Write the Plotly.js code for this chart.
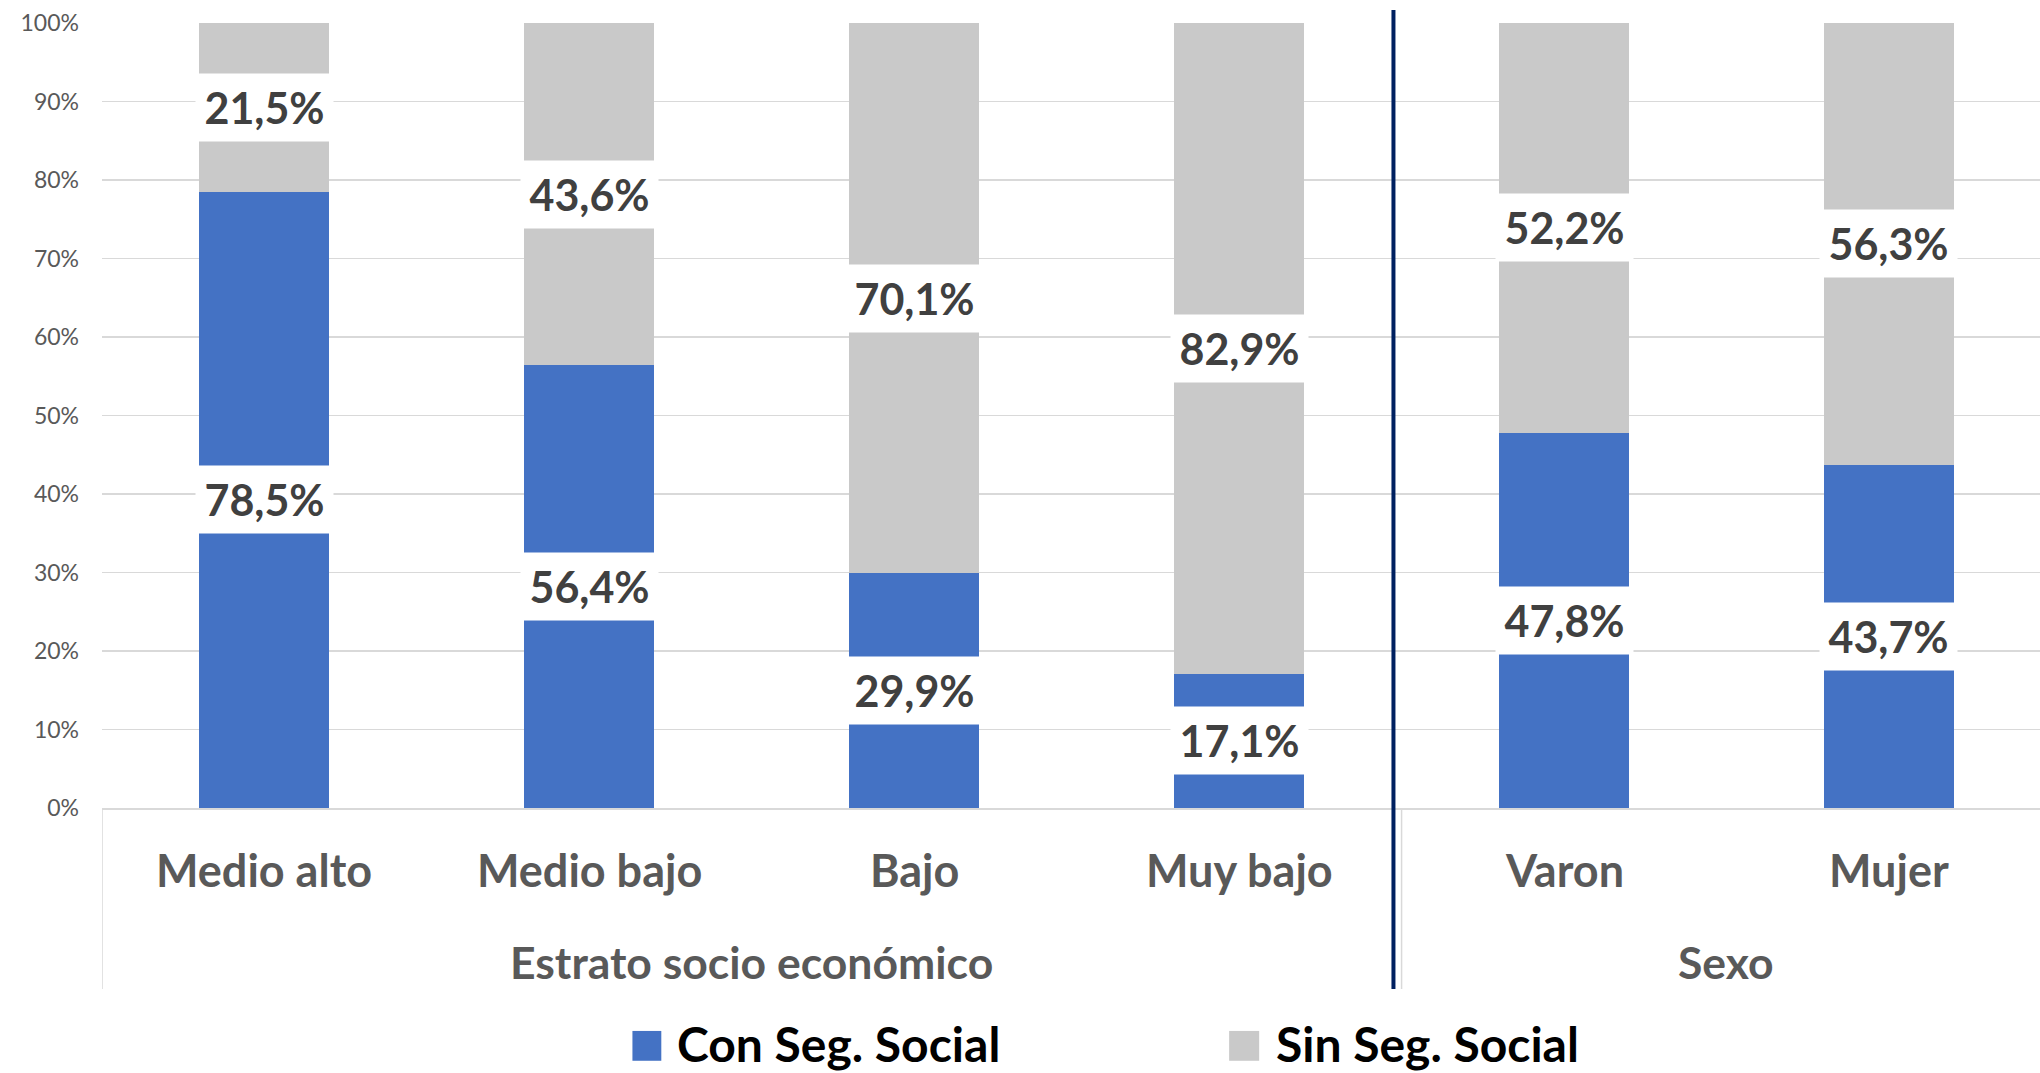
<!DOCTYPE html>
<html>
<head>
<meta charset="utf-8">
<script src="https://cdn.plot.ly/plotly-3.0.1.min.js"></script>
<style>html,body{margin:0;padding:0;background:#fff;}#chart{width:2040px;height:1073px;}</style>
</head>
<body>
<div id="chart"></div>
<script>
const categories = ['Medio alto', 'Medio bajo', 'Bajo', 'Muy bajo', 'Varon', 'Mujer'];
const groups = ['Estrato socio económico', 'Sexo'];
const groupSpans = [[0, 3], [4, 5]];
const conSeg = [78.5, 56.4, 29.9, 17.1, 47.8, 43.7];
const sinSeg = [21.5, 43.6, 70.1, 82.9, 52.2, 56.3];
const seriesNames = ['Con Seg. Social', 'Sin Seg. Social'];
const yTicks = [0, 10, 20, 30, 40, 50, 60, 70, 80, 90, 100];

const BLUE = '#4472C4', GRAY = '#C9C9C9';
const FONT = 'Lato, "Open Sans", sans-serif';
const xs = categories.map((c, i) => i);
const fmt = v => v.toFixed(1).replace('.', ',') + '%';

const traces = [
  {type: 'bar', x: xs, y: conSeg, name: seriesNames[0], marker: {color: BLUE}, width: 0.4, hoverinfo: 'skip', showlegend: false},
  {type: 'bar', x: xs, y: sinSeg, name: seriesNames[1], marker: {color: GRAY}, width: 0.4, hoverinfo: 'skip', showlegend: false}
];

const annotations = [];
xs.forEach(i => {
  [[conSeg[i] / 2, conSeg[i]], [conSeg[i] + sinSeg[i] / 2, sinSeg[i]]].forEach(([yy, v]) => {
    annotations.push({x: i, y: yy, xref: 'x', yref: 'y', text: '<b>' + fmt(v) + '</b>', showarrow: false,
      bgcolor: '#ffffff', borderpad: 7, width: 123, height: 53,
      font: {family: FONT, size: 43, color: '#404040'}});
  });
  annotations.push({x: i, y: -0.079, xref: 'x', yref: 'paper', yanchor: 'middle', text: '<b>' + categories[i] + '</b>', showarrow: false,
    font: {family: FONT, size: 45, color: '#595959'}});
});
groups.forEach((g, k) => {
  const [a, b] = groupSpans[k];
  annotations.push({x: (a + b) / 2, y: -0.195, xref: 'x', yref: 'paper', yanchor: 'middle', text: '<b>' + g + '</b>', showarrow: false,
    font: {family: FONT, size: 44.5, color: '#595959'}});
});
// legend texts
annotations.push({x: 0.2958, y: -0.2994, xref: 'paper', yref: 'paper', xanchor: 'left', yanchor: 'middle', text: '<b>' + seriesNames[0] + '</b>', showarrow: false,
  font: {family: FONT, size: 48, color: '#000000'}});
annotations.push({x: 0.6048, y: -0.2994, xref: 'paper', yref: 'paper', xanchor: 'left', yanchor: 'middle', text: '<b>' + seriesNames[1] + '</b>', showarrow: false,
  font: {family: FONT, size: 48, color: '#000000'}});

const shapes = [
  {type: 'line', xref: 'x', yref: 'paper', x0: 3.475, x1: 3.475, y0: 1.0166, y1: -0.2306, line: {color: '#002060', width: 4}},
  {type: 'line', xref: 'x', yref: 'paper', x0: -0.5, x1: -0.5, y0: 0, y1: -0.2306, line: {color: '#d9d9d9', width: 1.5}},
  {type: 'line', xref: 'x', yref: 'paper', x0: 3.5, x1: 3.5, y0: 0, y1: -0.2306, line: {color: '#d9d9d9', width: 1.5}},
  {type: 'rect', xref: 'paper', yref: 'paper', x0: 0.2737, x1: 0.2886, y0: -0.284, y1: -0.322, fillcolor: BLUE, line: {width: 0}},
  {type: 'rect', xref: 'paper', yref: 'paper', x0: 0.5816, x1: 0.5971, y0: -0.284, y1: -0.322, fillcolor: GRAY, line: {width: 0}}
];

const layout = {
  width: 2040, height: 1073,
  margin: {l: 101.5, r: 0, t: 23, b: 265, pad: 0},
  paper_bgcolor: '#ffffff', plot_bgcolor: '#ffffff',
  barmode: 'stack',
  showlegend: false,
  xaxis: {range: [-0.5, 5.465], showticklabels: false, showgrid: false, zeroline: false,
    showline: true, linecolor: '#d9d9d9', linewidth: 1.5, ticks: '', fixedrange: true},
  yaxis: {range: [0, 100], tickvals: yTicks, ticktext: yTicks.map(v => v + '%'),
    showgrid: true, gridcolor: '#d9d9d9', gridwidth: 1.5, zeroline: false, showline: false,
    ticks: '', ticklabelstandoff: 22,
    tickfont: {family: FONT, size: 23, color: '#595959'}, fixedrange: true},
  annotations: annotations,
  shapes: shapes
};

Plotly.newPlot('chart', traces, layout, {displayModeBar: false, staticPlot: true});
</script>
</body>
</html>
